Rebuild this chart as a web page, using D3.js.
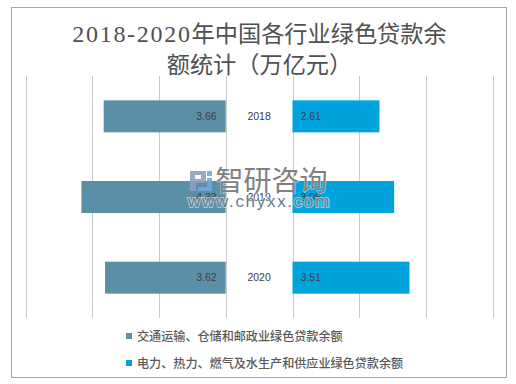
<!DOCTYPE html>
<html><head><meta charset="utf-8">
<script src="https://cdn.jsdelivr.net/npm/d3@7/dist/d3.min.js"></script>
<style>html,body{margin:0;padding:0;background:#fff}svg{display:block}</style></head>
<body><svg id="c" width="516" height="384"></svg>
<script>
const years=["2018","2019","2020"];
const transport=[3.66,4.33,3.62];
const power=[2.61,3.05,3.51];
const gridTicks=[0,2,4,6];
const titleNum="2018-2020";
const titleLines=["年中国各行业绿色贷款余","额统计（万亿元）"];
const legendNames=["交通运输、仓储和邮政业绿色贷款余额","电力、热力、燃气及水生产和供应业绿色贷款余额"];
const colors=["#5b8fa8","#00a3dc"];
const cjk='"Noto Sans CJK SC","Noto Sans",sans-serif';
const svg=d3.select("#c");
svg.append("rect").attr("x",11.5).attr("y",7.5).attr("width",495).attr("height",370).attr("fill","#fff").attr("stroke","#a6a6a6");
const xL=d3.scaleLinear().domain([0,6]).range([225.7,25.7]);
const xR=d3.scaleLinear().domain([0,6]).range([292.5,492.5]);
const y=d3.scaleBand().domain(years).range([76,318]).paddingInner(0.6).paddingOuter(0.3);
const grid=svg.append("g").attr("stroke","#c9c9c9");
[xL,xR].forEach(s=>grid.selectAll(null).data(gridTicks).enter().append("line")
  .attr("x1",d=>Math.round(s(d))+.5).attr("x2",d=>Math.round(s(d))+.5).attr("y1",76).attr("y2",318));
const bh=32;
const cy=d=>y(d)+y.bandwidth()/2;
svg.selectAll(null).data(years).enter().append("rect").attr("fill",colors[0])
  .attr("x",(d,i)=>xL(transport[i])).attr("width",(d,i)=>xL(0)-xL(transport[i])).attr("y",d=>cy(d)-bh/2).attr("height",bh);
svg.selectAll(null).data(years).enter().append("rect").attr("fill",colors[1])
  .attr("x",xR(0)).attr("width",(d,i)=>xR(power[i])-xR(0)).attr("y",d=>cy(d)-bh/2).attr("height",bh);
const lab=(data,x,anchor,fmt)=>svg.selectAll(null).data(data).enter().append("text")
  .attr("x",x).attr("y",(d,i)=>cy(years[i])+3.5).attr("text-anchor",anchor)
  .attr("font-family","Liberation Sans,sans-serif").attr("font-size",10.5).attr("fill","#404040").text(fmt);
lab(transport,xL(0)-9,"end",d=>d.toFixed(2));
lab(power,xR(0)+8,"start",d=>d.toFixed(2));
lab(years,(xL(0)+xR(0))/2,"middle",d=>d);
const t1=svg.append("text").attr("x",259.5).attr("y",42).attr("text-anchor","middle").attr("font-family",'"Liberation Serif",'+cjk).attr("font-size",23.2).attr("fill","#505050");
t1.append("tspan").attr("font-size",24).attr("letter-spacing",1.7).text(titleNum);
t1.append("tspan").text(titleLines[0]);
svg.append("text").attr("x",259.5).attr("y",73).attr("text-anchor","middle").attr("font-family",'"Liberation Serif",'+cjk).attr("font-size",23.2).attr("fill","#505050").text(titleLines[1]);
const leg=svg.selectAll(null).data(legendNames).enter().append("g").attr("transform",(d,i)=>`translate(126,${336+i*27})`);
leg.append("rect").attr("x",0).attr("y",-3).attr("width",6).attr("height",6).attr("fill",(d,i)=>colors[i]);
leg.append("text").attr("x",11).attr("y",4.5).attr("font-family",cjk).attr("font-size",12.1).attr("font-weight",500).attr("fill","#595959").text(d=>d);
const wm=svg.append("g");
wm.append("path").attr("d","M190 171H206V183H196V191H190V171M195 175V179H201V175Z").attr("fill","#8d9ec4").attr("fill-rule","evenodd").attr("opacity",.9);
wm.append("path").attr("d","M207 171H212V176H207ZM207 178H212V191H198V187H207Z").attr("fill","#6fa9d6").attr("opacity",.9);
wm.append("text").attr("x",215.5).attr("y",191).attr("font-family",cjk).attr("font-size",28).attr("fill","#808080")
  .attr("stroke","#fff").attr("stroke-width",1.2).attr("stroke-opacity",.6).attr("paint-order","stroke").text("智研咨询");
wm.append("text").attr("x",188).attr("y",207).attr("font-family","Liberation Sans,sans-serif").attr("font-size",17).attr("letter-spacing",1.7).attr("fill","#5f7d90")
  .attr("stroke","#fff").attr("stroke-width",2).attr("stroke-opacity",.55).attr("paint-order","stroke").text("www.chyxx.com");
</script></body></html>
